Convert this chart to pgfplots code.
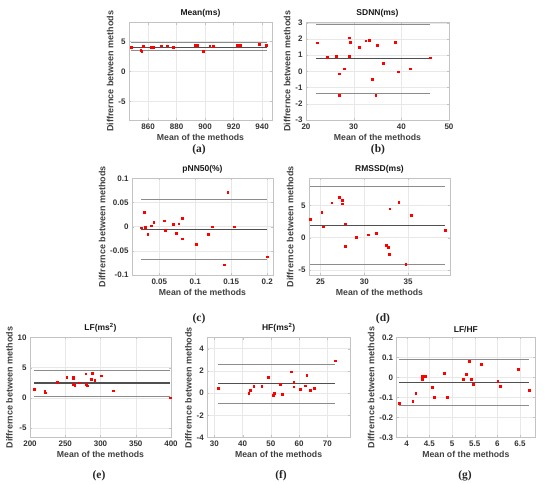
\documentclass[border=0pt]{standalone}
\usepackage{fontspec}
\setmainfont{Liberation Sans}
\newfontfamily\capfont{Liberation Serif}
\usepackage{pgfplots}
\pgfplotsset{compat=1.18}
\definecolor{limc}{RGB}{140,140,140}
\definecolor{meanc}{RGB}{80,80,80}
\definecolor{boxc}{RGB}{195,195,195}
\pgfplotsset{
  ba/.style={
    scale only axis, anchor=south west,
    axis line style={boxc, line width=0.5pt},
    grid=major, major grid style={black!9, line width=0.3pt},
    tick style={boxc}, tick align=inside, major tick length=2pt,
    /pgf/number format/assume math mode=true,
    /pgf/number format/fixed, /pgf/number format/precision=2,
    scaled ticks=false,
    tick label style={font=\bfseries\fontsize{8}{9}\selectfont, color=black!80},
    title style={font=\bfseries\fontsize{8.5}{9}\selectfont, color=black!90, yshift=-4.5pt},
    xlabel style={font=\bfseries\fontsize{8.7}{9}\selectfont, color=black!75, yshift=2pt},
    ylabel style={font=\bfseries\fontsize{9}{10}\selectfont, color=black!75, yshift=-2pt},
    xlabel={Mean of the methods}, ylabel={Diffrernce between methods},
    clip mode=individual,
  },
  lim/.style={limc, line width=1pt, no markers},
  meanl/.style={meanc, line width=1.1pt, no markers},
  pts/.style={only marks, mark=square*, mark size=0.85pt, color=red, mark options={draw=red, fill=red}},
}
\begin{document}
\begin{tikzpicture}[x=1pt,y=1pt]
\useasboundingbox (0,0) rectangle (550,484);

% (a)
\begin{axis}[ba, at={(129pt,364pt)}, width=143pt, height=97.3pt,
  xmin=846.6, xmax=947, ymin=-8.1, ymax=8.1,
  xtick={860,880,900,920,940}, ytick={-5,0,5}, title={Mean(ms)}]
\addplot[lim] coordinates {(848.3,4.77)(943.2,4.77)};
\addplot[meanl] coordinates {(848.3,3.98)(943.2,3.98)};
\addplot[lim] coordinates {(848.3,3.41)(943.2,3.41)};
\addplot[pts] coordinates {(848.3,3.98)(854.9,3.47)(855.6,3.30)(856.7,4.20)(861.9,4.03)(863.7,4.03)(869.4,4.26)(873.3,4.26)(877.5,3.98)(892.7,4.32)(894.6,4.32)(898.8,3.41)(903.3,4.26)(905.8,4.15)(922.5,4.38)(923.2,4.32)(924.8,4.38)(937.9,4.49)(943.0,4.32)};
\end{axis}

% (b)
\begin{axis}[ba, at={(306pt,364pt)}, width=143pt, height=97.3pt,
  xmin=20, xmax=50, ymin=-3, ymax=3,
  xtick={20,30,40,50}, ytick={-3,-2,-1,0,1,2,3}, title={SDNN(ms)}]
\addplot[lim] coordinates {(22.2,2.90)(46.1,2.90)};
\addplot[meanl] coordinates {(22.2,0.77)(46.1,0.77)};
\addplot[lim] coordinates {(22.2,-1.39)(46.1,-1.39)};
\addplot[pts] coordinates {(22.4,1.76)(24.5,0.87)(26.4,0.93)(27.0,-0.15)(27.0,-1.47)(28.0,0.17)(29.1,2.07)(29.3,1.80)(29.1,0.93)(31.2,1.49)(32.5,1.89)(33.2,1.93)(33.9,-0.48)(34.6,-1.49)(34.9,1.62)(36.2,0.50)(38.7,1.80)(39.4,-0.02)(41.9,0.17)(46.1,0.85)};
\end{axis}

% (c)
\begin{axis}[ba, at={(132pt,209pt)}, width=141pt, height=96.7pt,
  xmin=0.012, xmax=0.208, ymin=-0.1, ymax=0.1,
  xtick={0.05,0.1,0.15,0.2}, ytick={-0.1,-0.05,0,0.05,0.1}, title={pNN50(\%)}]
\addplot[lim] coordinates {(0.025,0.0566)(0.200,0.0566)};
\addplot[meanl] coordinates {(0.025,-0.0055)(0.200,-0.0055)};
\addplot[lim] coordinates {(0.025,-0.067)(0.200,-0.067)};
\addplot[pts] coordinates {(0.025,-0.002)(0.029,0.030)(0.030,-0.001)(0.034,-0.015)(0.039,0.002)(0.042,0.009)(0.057,0.012)(0.058,-0.007)(0.069,0.0055)(0.073,-0.014)(0.077,0.006)(0.082,0.017)(0.082,-0.025)(0.101,-0.037)(0.118,-0.016)(0.123,0.000)(0.140,-0.079)(0.145,0.071)(0.154,0.000)(0.200,-0.062)};
\end{axis}

% (d)
\begin{axis}[ba, at={(309pt,209pt)}, width=141pt, height=96.7pt,
  xmin=23.69, xmax=39.77, ymin=-5.8, ymax=9.2,
  xtick={25,30,35}, ytick={-5,0,5}, title={RMSSD(ms)}]
\addplot[lim] coordinates {(23.8,8.0)(39.2,8.0)};
\addplot[meanl] coordinates {(23.8,1.94)(39.2,1.94)};
\addplot[lim] coordinates {(23.8,-4.13)(39.2,-4.13)};
\addplot[pts] coordinates {(23.80,2.86)(25.14,3.98)(25.33,1.68)(26.29,5.41)(27.17,6.28)(27.48,5.82)(27.48,5.26)(27.82,2.14)(27.82,-1.28)(29.05,0.05)(30.43,0.46)(31.35,0.66)(32.46,-1.22)(32.72,-1.53)(32.84,-2.60)(32.88,4.49)(33.91,5.51)(34.72,-4.08)(35.33,3.52)(39.20,1.12)};
\end{axis}

% (e)
\begin{axis}[ba, at={(30pt,46.5pt)}, width=141pt, height=100pt,
  xmin=200, xmax=400, ymin=-6.6, ymax=10,
  xtick={200,250,300,350,400}, ytick={-5,0,5,10}, title={LF(ms\textsuperscript{2})}]
\addplot[lim] coordinates {(206.3,4.50)(399,4.50)};
\addplot[meanl] coordinates {(206.3,2.44)(399,2.44)};
\addplot[lim] coordinates {(206.3,0.22)(399,0.22)};
\addplot[pts] coordinates {(206.3,1.44)(220.7,1.11)(221.2,0.83)(238.1,2.56)(252.0,3.44)(261.2,3.44)(261.2,3.28)(261.7,2.22)(263.6,2.06)(269.9,2.50)(279.0,4.00)(279.5,2.22)(281.0,2.00)(287.2,3.11)(288.7,4.06)(291.6,2.89)(300.7,3.67)(317.6,1.17)(399.0,0.00)};
\end{axis}

% (f)
\begin{axis}[ba, at={(207.3pt,46.5pt)}, width=142.7pt, height=100pt,
  xmin=27.5, xmax=78, ymin=-4, ymax=5,
  xtick={30,40,50,60,70}, ytick={-4,-2,0,2,4}, title={HF(ms\textsuperscript{2})}]
\addplot[lim] coordinates {(31.3,2.60)(72.7,2.60)};
\addplot[meanl] coordinates {(31.3,0.84)(72.7,0.84)};
\addplot[lim] coordinates {(31.3,-0.96)(72.7,-0.96)};
\addplot[pts] coordinates {(31.3,0.45)(42.1,-0.03)(42.7,0.24)(43.9,0.60)(46.7,0.63)(49.1,1.43)(50.7,-0.21)(51.1,0.0)(53.3,0.78)(53.9,-0.12)(57.1,1.91)(58.1,0.96)(58.1,0.57)(60.4,0.36)(62.2,0.66)(62.7,1.61)(63.8,0.27)(65.3,0.42)(72.7,2.90)};
\end{axis}

% (g)
\begin{axis}[ba, at={(396.7pt,46.5pt)}, width=138.3pt, height=100pt,
  xmin=3.78, xmax=6.83, ymin=-0.3, ymax=0.2,
  xtick={4,4.5,5,5.5,6,6.5}, ytick={-0.3,-0.2,-0.1,0,0.1,0.2}, title={LF/HF}]
\addplot[lim] coordinates {(3.84,0.090)(6.70,0.090)};
\addplot[meanl] coordinates {(3.84,-0.025)(6.70,-0.025)};
\addplot[lim] coordinates {(3.84,-0.142)(6.70,-0.142)};
\addplot[pts] coordinates {(3.84,-0.127)(4.13,-0.118)(4.20,-0.080)(4.34,0.008)(4.35,-0.010)(4.41,0.008)(4.56,-0.048)(4.61,-0.098)(4.82,0.020)(4.90,-0.098)(5.25,-0.008)(5.32,0.015)(5.38,0.082)(5.43,-0.008)(5.47,-0.032)(5.65,0.068)(6.01,-0.017)(6.07,-0.043)(6.46,0.042)(6.70,-0.062)};
\end{axis}

% subcaptions
\begin{scope}[every node/.style={font=\capfont\bfseries\fontsize{11.5}{12}\selectfont, color=black!85}]
\node at (199,334) {(a)};
\node at (378,334) {(b)};
\node at (199,165) {(c)};
\node at (383,165) {(d)};
\node at (99,8.5) {(e)};
\node at (281,8.5) {(f)};
\node at (465,8.5) {(g)};
\end{scope}
\end{tikzpicture}
\end{document}
